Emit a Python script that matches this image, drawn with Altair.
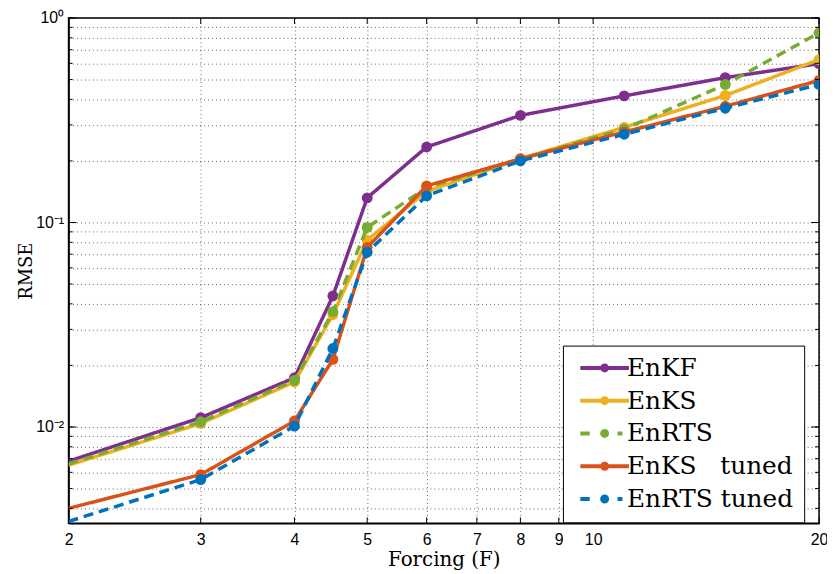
import altair as alt
import pandas as pd

# ---- data ----
forcing = [2, 3, 4, 4.5, 5, 6, 8, 11, 15, 20]
series_names = ["EnKF", "EnKS", "EnRTS", "EnKS\u00a0\u00a0\u00a0tuned", "EnRTS tuned"]
enkf = [0.0068, 0.0111, 0.0174, 0.0437, 0.132, 0.234, 0.334, 0.416, 0.511, 0.598]
enks = [0.0065, 0.0104, 0.0166, 0.0354, 0.082, 0.142, 0.205, 0.292, 0.418, 0.626]
enrts = [0.0066, 0.0106, 0.0169, 0.0366, 0.0946, 0.148, 0.204, 0.286, 0.473, 0.846]
enks_tuned = [0.0040, 0.00585, 0.0107, 0.0214, 0.0756, 0.151, 0.205, 0.277, 0.370, 0.495]
enrts_tuned = [0.00345, 0.00553, 0.0101, 0.0242, 0.0715, 0.135, 0.200, 0.270, 0.362, 0.473]
all_values = [enkf, enks, enrts, enks_tuned, enrts_tuned]

colors = ["#7E2F8E", "#EDB120", "#77AC30", "#D95319", "#0072BD"]
dashed = [False, False, True, False, True]

x_ticks = [2, 3, 4, 5, 6, 7, 8, 9, 10, 20]
y_ticks = [0.004, 0.005, 0.006, 0.007, 0.008, 0.009,
           0.01, 0.02, 0.03, 0.04, 0.05, 0.06, 0.07, 0.08, 0.09,
           0.1, 0.2, 0.3, 0.4, 0.5, 0.6, 0.7, 0.8, 0.9, 1.0]
y_major = [0.01, 0.1, 1.0]

rows = []
for name, vals in zip(series_names, all_values):
    for f, v in zip(forcing, vals):
        rows.append({"series": name, "F": f, "RMSE": v})
df = pd.DataFrame(rows)

W, H = 756, 509
SERIF = "DejaVu Serif"
SANS = "Liberation Sans"

# legend glyphs (path units: 5 px each at symbolSize 100)
dot = "M0.5,0A0.5,0.5,0,1,1,-0.5,0A0.5,0.5,0,1,1,0.5,0"
solid_path = "M-4.9,0H4.9" + dot
dash_path = "M-4.9,0H-3.0M2.6,0H3.6" + dot
shape_range = [dash_path if d else solid_path for d in dashed]

xscale = alt.Scale(type="log", domain=[2, 20], nice=False)
yscale = alt.Scale(type="log", domain=[0.00338, 1], nice=False)

xaxis = alt.Axis(values=x_ticks, grid=True, gridDash=[1, 3], gridColor="#000",
                 gridOpacity=0.6, ticks=False, labelFont=SANS,
                 labelFontSize=16, labelColor="#000", labelPadding=8,
                 labelFlush=False, domainColor="#000", domainWidth=1.5,
                 title="Forcing (F)", titleFont=SERIF,
                 titleFontSize=20, titleFontWeight="normal", titleColor="#000",
                 titlePadding=3, labelExpr="datum.value + ''")
yaxis = alt.Axis(values=y_ticks, grid=True, gridDash=[1, 3], gridColor="#000",
                 gridOpacity=0.6, ticks=False, labelFont=SANS,
                 labelFontSize=16, labelColor="#000", labelPadding=5,
                 labelExpr="datum.value == 1 ? '10\u2070' : (abs(datum.value - 0.1) < 1e-9 ? '10\u207b\u00b9' : (abs(datum.value - 0.01) < 1e-9 ? '10\u207b\u00b2' : ''))",
                 domainColor="#000", domainWidth=1.5,
                 title="RMSE", titleFont=SERIF, titleFontSize=18,
                 titleFontWeight="normal", titleColor="#000", titlePadding=0)

X = alt.X("F:Q", scale=xscale, axis=xaxis)
Y = alt.Y("RMSE:Q", scale=yscale, axis=yaxis)
color_scale = alt.Scale(domain=series_names, range=colors)
leg = alt.Legend(orient="none", legendX=498, legendY=330,
                 title=None, symbolSize=100, symbolStrokeWidth=4,
                 symbolFillColor="transparent", symbolOpacity=1,
                 symbolOffset=19.5, labelOffset=10,
                 labelFont=SERIF, labelFontSize=25, labelColor="#000",
                 labelFontWeight="normal",
                 rowPadding=7, padding=10,
                 strokeColor="#000", fillColor="#fff", labelLimit=300)
C = alt.Color("series:N", scale=color_scale, legend=leg)

legend_layer = alt.Chart(df).transform_filter("false").mark_point(
    filled=False, strokeWidth=4, opacity=1).encode(
    x=X, y=Y, color=C,
    shape=alt.Shape("series:N", scale=alt.Scale(domain=series_names, range=shape_range),
                    legend=leg))
layers = [legend_layer]

for name, col, d in zip(series_names, colors, dashed):
    sub = alt.Chart(df).transform_filter(alt.datum.series == name)
    line = sub.mark_line(strokeWidth=3.5, clip=True, strokeCap="butt").encode(
        x=X, y=Y, color=C,
        strokeDash=alt.value([10, 6] if d else [1, 0]))
    pts = sub.transform_filter(alt.datum.F > 2).mark_point(
        filled=True, size=120, opacity=1, clip=True).encode(
        x=X, y=Y, color=C)
    layers += [line, pts]

# inward tick marks on the frame
xt = pd.DataFrame({"F": x_ticks})
yt = pd.DataFrame({"RMSE": y_ticks})
ytm = pd.DataFrame({"RMSE": y_major})
tick_color = "#000"
layers += [
    alt.Chart(xt).mark_rule(color=tick_color, strokeWidth=1).encode(x=X, y=alt.value(H), y2=alt.value(H - 6)),
    alt.Chart(xt).mark_rule(color=tick_color, strokeWidth=1).encode(x=X, y=alt.value(0), y2=alt.value(6)),
    alt.Chart(yt).mark_rule(color=tick_color, strokeWidth=1).encode(y=Y, x=alt.value(0), x2=alt.value(4)),
    alt.Chart(yt).mark_rule(color=tick_color, strokeWidth=1).encode(y=Y, x=alt.value(W - 4), x2=alt.value(W)),
    alt.Chart(ytm).mark_rule(color=tick_color, strokeWidth=1).encode(y=Y, x=alt.value(0), x2=alt.value(8)),
    alt.Chart(ytm).mark_rule(color=tick_color, strokeWidth=1).encode(y=Y, x=alt.value(W - 8), x2=alt.value(W)),
]

chart = alt.layer(*layers).properties(
    width=W, height=H, background="#fff",
    autosize=alt.AutoSizeParams(type="none"),
    padding={"left": 61, "top": 8, "right": 8, "bottom": 49},
).configure(
    font=SERIF,
    style={"guide-label": {"font": SERIF}},
).configure_view(stroke="#000", strokeWidth=1.5).configure_legend(
    labelFont=SERIF, labelFontSize=25, labelColor="#000"
)

chart.save("out.html", embed_options={"renderer": "svg", "actions": False})
